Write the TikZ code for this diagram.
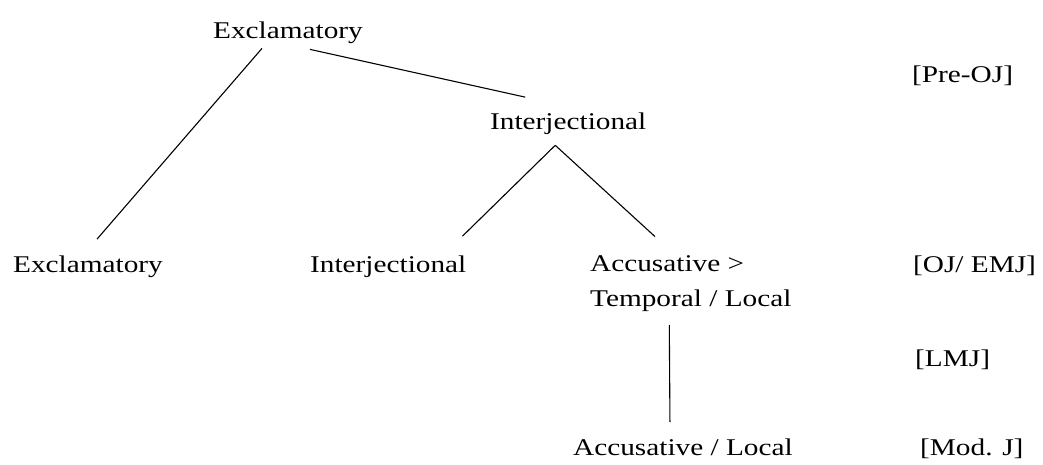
\documentclass[tikz,border=0pt]{standalone}
\usepackage{fontspec}
\setmainfont{Liberation Serif}[FakeStretch=1.22]
\usetikzlibrary{positioning}

\begin{document}
\begin{tikzpicture}[x=1pt,y=-1pt,
    lbl/.style={anchor=base west,inner sep=0pt,font=\fontsize{24}{35}\selectfont},
    era/.style={lbl},
    branch/.style={line width=1.1pt}]
    \useasboundingbox (0,0) rectangle (1043,465);
    % tree of the particle's functions
    \node[lbl] (exclTop) at (213,39) {Exclamatory};
    \node[lbl] (interTop) at (490,130) {Interjectional};
    \node[lbl] (exclLeft) at (13,272) {Exclamatory};
    \node[lbl] (interMid) at (310,272) {Interjectional};
    \node[lbl,anchor=north west,align=left] (accTemp) at (590,255.6)
      {Accusative >\\Temporal / Local};
    \node[lbl] (accLocal) at (573,455) {Accusative / Local};
    % periods
    \node[era] (preOJ) at (912,83) {[Pre-OJ]};
    \node[era] (ojEmj) at (913,272) {[OJ/ EMJ]};
    \node[era] (lmj) at (915,366) {[LMJ]};
    \node[era] (modJ) at (920,455) {[Mod. J]};
    % branches
    \draw[branch] ([shift={(-26,4)}]exclTop.south) -- ([shift={(9,-16)}]exclLeft.north);
    \draw[branch] ([shift={(22,5)}]exclTop.south) -- ([shift={(-43,-16)}]interTop.north);
    \draw[branch] ([shift={(-13,10)}]interTop.south) -- ([shift={(-4,-19)}]interMid.north east);
    \draw[branch] ([shift={(-13,10)}]interTop.south) -- ([shift={(65,-19)}]accTemp.north west);
    \draw[branch] ([shift={(-21.5,13)}]accTemp.south) -- ([shift={(-13,-16)}]accLocal.north);
\end{tikzpicture}
\end{document}
